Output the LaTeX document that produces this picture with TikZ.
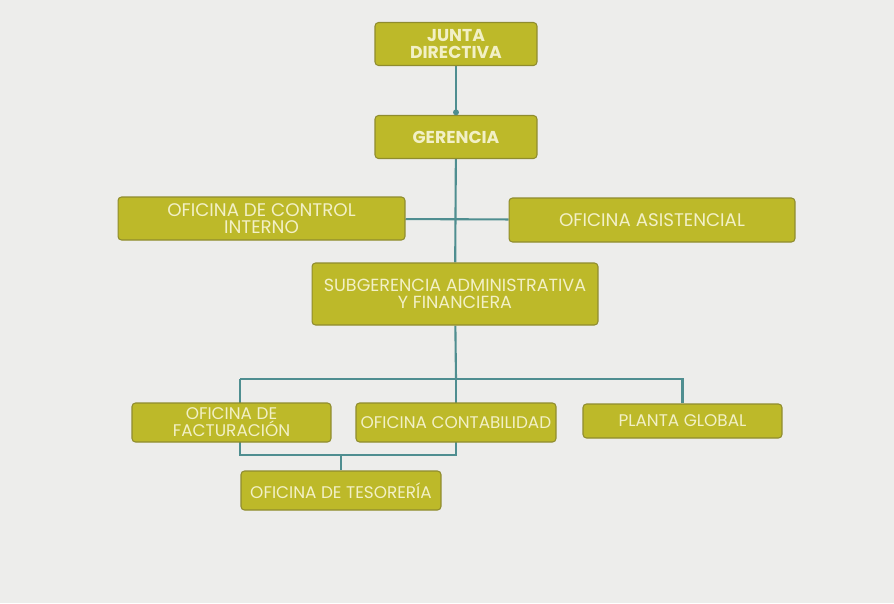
\documentclass[tikz,border=0pt]{standalone}
\usepackage{fontspec}
\setmainfont{Poppins}
\usetikzlibrary{backgrounds}

\definecolor{fondo}{HTML}{EDEDEB}
\definecolor{oliva}{HTML}{BDB929}
\definecolor{bordeoliva}{HTML}{8F8C2E}
\definecolor{letra}{HTML}{F2F0C6}
\definecolor{linea}{HTML}{4F8E90}

\tikzset{
  caja/.style={draw=bordeoliva, fill=oliva, rounded corners=2pt, line width=0.6pt,
    text=letra, align=center, inner sep=1pt, font=\fontsize{9.6}{9.6}\selectfont},
  cajagrande/.style={caja, font=\fontsize{10.4}{9.9}\selectfont},
  cajajefe/.style={caja, font=\fontsize{9.8}{9.2}\selectfont\bfseries},
  enlace/.style={draw=linea, line width=1.2pt},
}

\begin{document}
\begin{tikzpicture}[x=0.02cm,y=-0.02cm]
  \useasboundingbox (0,0) rectangle (894,603);
  % direccion
  \node[cajajefe, minimum width=3.24cm, minimum height=0.86cm] (junta) at (456,44) {JUNTA\\DIRECTIVA};
  \node[cajajefe, minimum width=3.24cm, minimum height=0.86cm] (gerencia) at (456,137) {GERENCIA};
  % oficinas de apoyo
  \node[cajagrande, minimum width=5.74cm, minimum height=0.86cm] (control) at (261.5,218.5) {OFICINA DE CONTROL\\INTERNO};
  \node[cajagrande, minimum width=5.72cm, minimum height=0.88cm] (asistencial) at (652,220) {OFICINA ASISTENCIAL};
  \node[cajagrande, font=\fontsize{10}{9.9}\selectfont, minimum width=5.72cm, minimum height=1.24cm] (subgerencia) at (455,294) {SUBGERENCIA ADMINISTRATIVA\\Y FINANCIERA};
  % oficinas operativas
  \node[caja, minimum width=3.98cm, minimum height=0.78cm] (facturacion) at (231.5,422.5) {OFICINA DE\\FACTURACIÓN};
  \node[caja, minimum width=4cm, minimum height=0.78cm] (contabilidad) at (456,422.5) {OFICINA CONTABILIDAD};
  \node[caja, minimum width=3.98cm, minimum height=0.68cm] (planta) at (682.5,421) {PLANTA GLOBAL};
  \node[caja, minimum width=4cm, minimum height=0.78cm] (tesoreria) at (341,490.5) {OFICINA DE TESORERÍA};

  \coordinate (busizq) at (240,379);
  \coordinate (buscen) at (456,379);
  \coordinate (bajoizq) at (240,455);
  \coordinate (bajocen) at (456,455);
  \coordinate (bajotes) at (tesoreria.north |- bajoizq);

  \begin{scope}[on background layer]
    \fill[fondo] (0,0) rectangle (894,603);
    \draw[enlace] (junta) -- (gerencia);
    \draw[enlace] (gerencia) -- (subgerencia);
    \draw[enlace] (control) -- (asistencial);
    \draw[enlace] (subgerencia) -- (buscen);
    \draw[enlace] (busizq) -- (buscen) -| (planta);
    \draw[enlace] (busizq) -- (bajoizq) -- (bajocen) -- (buscen);
    \draw[enlace] (bajotes) -- (tesoreria);
  \end{scope}
  \fill[linea] ([yshift=1.5pt]gerencia.north) circle (1.7pt);
\end{tikzpicture}
\end{document}
